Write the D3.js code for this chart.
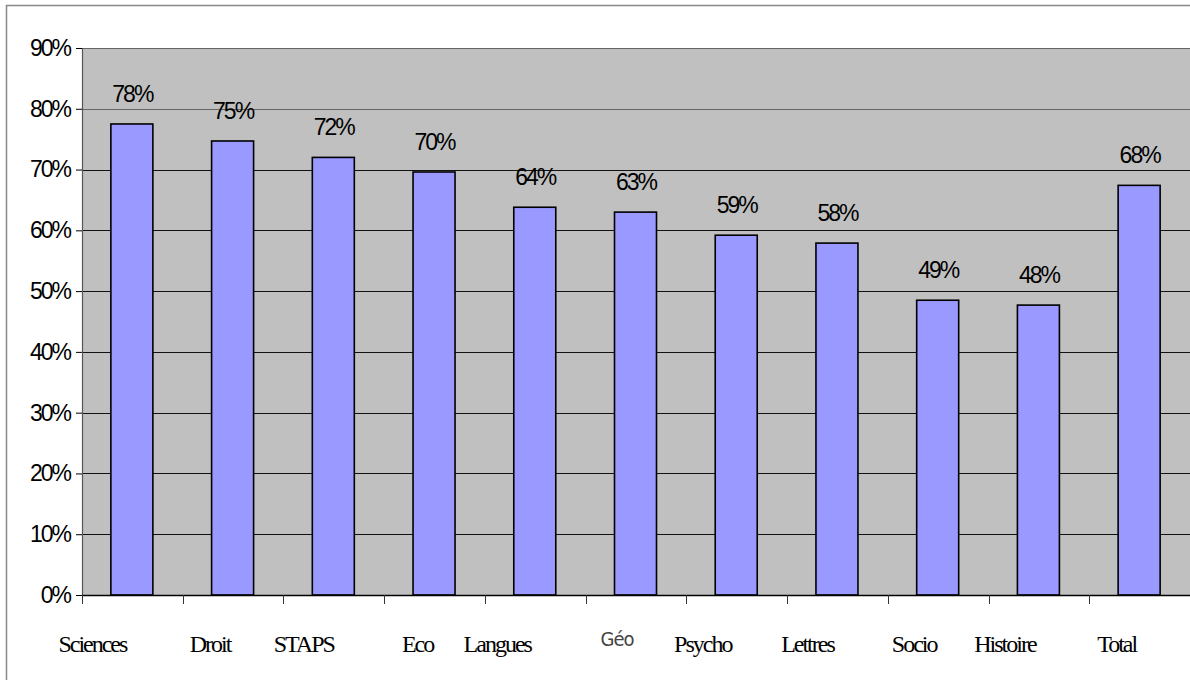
<!DOCTYPE html>
<html>
<head>
<meta charset="utf-8">
<script src="https://cdn.jsdelivr.net/npm/d3@7"></script>
<style>
  body { margin: 0; background: #fff; }
  svg { display: block; }
</style>
</head>
<body>
<svg id="chart" width="1190" height="680"></svg>
<script>
// data
const categories = ["Sciences", "Droit", "STAPS", "Eco", "Langues", "Géo", "Psycho", "Lettres", "Socio", "Histoire", "Total"];
const rates = [0.775, 0.747, 0.72, 0.696, 0.638, 0.63, 0.592, 0.579, 0.485, 0.477, 0.674];
const valueLabels = ["78%", "75%", "72%", "70%", "64%", "63%", "59%", "58%", "49%", "48%", "68%"];
const yTicks = [0, 0.1, 0.2, 0.3, 0.4, 0.5, 0.6, 0.7, 0.8, 0.9];

// layout: the category labels sit a bit left of their bars in the original
const labelShift = [-40, -23, -30, -17, -38, -19, -34, -30, -24, -34, -23];

const svg = d3.select("#chart");
const width = +svg.attr("width");
const height = +svg.attr("height");

const plot = { left: 82, right: 1190, top: 48, bottom: 595 };

// outer frame
svg.append("line")
  .attr("x1", 6).attr("y1", 5.5).attr("x2", width).attr("y2", 5.5)
  .attr("stroke", "#888").attr("stroke-width", 1.5);
svg.append("line")
  .attr("x1", 6.5).attr("y1", 5).attr("x2", 6.5).attr("y2", height)
  .attr("stroke", "#888").attr("stroke-width", 1.5);

const x = d3.scaleBand()
  .domain(categories)
  .range([plot.left, plot.right])
  .paddingInner(0)
  .paddingOuter(0);

const y = d3.scaleLinear()
  .domain([0, 0.9])
  .range([plot.bottom, plot.top]);

// plot background
svg.append("rect")
  .attr("x", plot.left)
  .attr("y", plot.top)
  .attr("width", plot.right - plot.left)
  .attr("height", plot.bottom - plot.top)
  .attr("fill", "#c0c0c0");

// gridlines
svg.append("g")
  .selectAll("line")
  .data(yTicks.slice(1))
  .join("line")
  .attr("x1", plot.left)
  .attr("x2", plot.right)
  .attr("y1", d => Math.round(y(d)) + 0.5)
  .attr("y2", d => Math.round(y(d)) + 0.5)
  .attr("stroke", d => d >= 0.8 ? "#666" : "#111")
  .attr("stroke-width", 1);

// bars
const barWidth = 42;
svg.append("g")
  .selectAll("rect")
  .data(rates)
  .join("rect")
  .attr("x", (d, i) => x(categories[i]) + x.bandwidth() / 2 - barWidth / 2 - 0.5)
  .attr("y", d => y(d))
  .attr("width", barWidth)
  .attr("height", d => plot.bottom - y(d))
  .attr("fill", "#9999ff")
  .attr("stroke", "#000")
  .attr("stroke-width", 1.6);

// value labels
svg.append("g")
  .selectAll("text")
  .data(rates)
  .join("text")
  .attr("x", (d, i) => x(categories[i]) + x.bandwidth() / 2)
  .attr("y", d => y(d) - 22)
  .attr("text-anchor", "middle")
  .attr("font-family", "Liberation Sans, Arial, sans-serif")
  .attr("font-size", 23)
  .attr("letter-spacing", -2)
  .attr("fill", "#000")
  .text((d, i) => valueLabels[i]);

// y axis
const yAxis = svg.append("g")
  .attr("transform", `translate(${plot.left},0)`)
  .call(d3.axisLeft(y).tickValues(yTicks).tickFormat(d3.format(".0%")).tickSize(6).tickPadding(6));
yAxis.select(".domain").attr("stroke", "#555").attr("stroke-width", 1.2);
yAxis.selectAll(".tick line").attr("stroke", "#000");
yAxis.selectAll(".tick text")
  .attr("font-family", "Liberation Sans, Arial, sans-serif")
  .attr("font-size", 23)
  .attr("letter-spacing", -2)
  .attr("fill", "#000");

// x axis: ticks at band boundaries
const xAxis = svg.append("g");
xAxis.append("line")
  .attr("x1", plot.left).attr("x2", plot.right)
  .attr("y1", plot.bottom + 0.5).attr("y2", plot.bottom + 0.5)
  .attr("stroke", "#000").attr("stroke-width", 1.4);
xAxis.selectAll(".xtick")
  .data(categories)
  .join("line")
  .attr("class", "xtick")
  .attr("x1", d => Math.round(x(d)) + 0.5)
  .attr("x2", d => Math.round(x(d)) + 0.5)
  .attr("y1", plot.bottom)
  .attr("y2", plot.bottom + 9)
  .attr("stroke", "#333");

const isGeo = d => d === "Géo";
xAxis.selectAll(".xlabel")
  .data(categories)
  .join("text")
  .attr("class", "xlabel")
  .attr("x", (d, i) => x(d) + x.bandwidth() / 2 + labelShift[i])
  .attr("y", d => isGeo(d) ? 646 : 652)
  .attr("text-anchor", "middle")
  .attr("font-family", d => isGeo(d) ? "DejaVu Sans, sans-serif" : "Liberation Serif, Times New Roman, serif")
  .attr("font-size", d => isGeo(d) ? 20 : 24)
  .attr("font-stretch", d => isGeo(d) ? "condensed" : null)
  .attr("letter-spacing", d => isGeo(d) ? -1 : -2)
  .attr("fill", d => isGeo(d) ? "#444" : "#000")
  .text(d => d);
</script>
</body>
</html>
